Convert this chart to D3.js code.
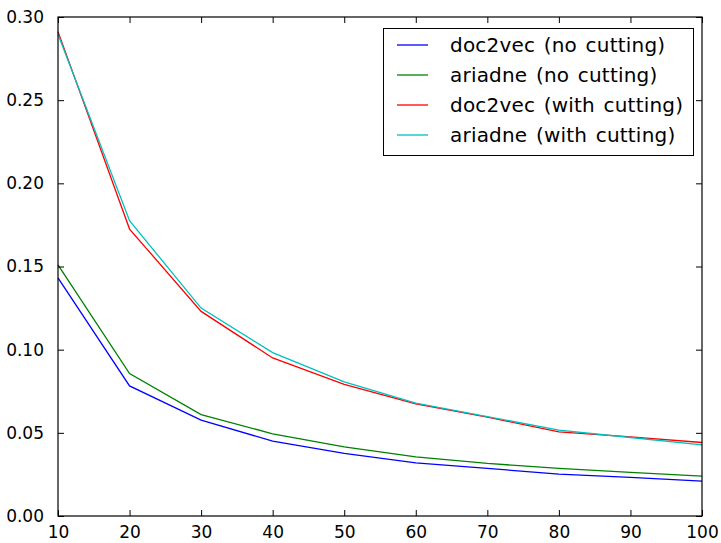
<!DOCTYPE html>
<html>
<head>
<meta charset="utf-8">
<script src="https://cdn.jsdelivr.net/npm/d3@7"></script>
<style>
  body { margin: 0; background: #fff; }
  svg text { font-family: "DejaVu Sans", sans-serif; fill: #000; }
</style>
</head>
<body>
<svg id="chart" width="721" height="543"></svg>
<script>
const xValues = [10, 20, 30, 40, 50, 60, 70, 80, 90, 100];
const doc2vecNoCut = [0.1432, 0.0782, 0.0576, 0.0450, 0.0376, 0.0320, 0.0286, 0.0252, 0.0232, 0.0210];
const ariadneNoCut = [0.1510, 0.0856, 0.0610, 0.0494, 0.0416, 0.0356, 0.0316, 0.0286, 0.0262, 0.0240];
const doc2vecCut = [0.2912, 0.1725, 0.1230, 0.0950, 0.0792, 0.0674, 0.0594, 0.0506, 0.0476, 0.0442];
const ariadneCut = [0.2896, 0.1775, 0.1250, 0.0982, 0.0806, 0.0678, 0.0598, 0.0516, 0.0472, 0.0428];
const seriesNames = ['doc2vec (no cutting)', 'ariadne (no cutting)', 'doc2vec (with cutting)', 'ariadne (with cutting)'];
const seriesColors = ['#0000ff', '#008000', '#ff0000', '#00bfbf'];
const xTicks = [10, 20, 30, 40, 50, 60, 70, 80, 90, 100];
const yTicks = [0, 0.05, 0.10, 0.15, 0.20, 0.25, 0.30];

const series = [doc2vecNoCut, ariadneNoCut, doc2vecCut, ariadneCut];

const plot = { left: 58, right: 702, top: 17, bottom: 516 };
const svg = d3.select('#chart');

const x = d3.scaleLinear().domain([10, 100]).range([plot.left, plot.right]);
const y = d3.scaleLinear().domain([0, 0.30]).range([plot.bottom, plot.top]);

const tickLen = 6;

// ticks pointing inward on all four sides
const axBottom = d3.axisBottom(x).tickValues(xTicks).tickSizeInner(-tickLen).tickSizeOuter(0).tickPadding(10).tickFormat(d3.format('d'));
const axTop = d3.axisTop(x).tickValues(xTicks).tickSizeInner(-tickLen).tickSizeOuter(0).tickFormat('');
const axLeft = d3.axisLeft(y).tickValues(yTicks).tickSizeInner(-tickLen).tickSizeOuter(0).tickPadding(14).tickFormat(d3.format('.2f'));
const axRight = d3.axisRight(y).tickValues(yTicks).tickSizeInner(-tickLen).tickSizeOuter(0).tickFormat('');

function styleAxis(g) {
  g.select('.domain').remove();
  g.selectAll('line').attr('stroke', '#000').attr('stroke-width', 1);
  g.selectAll('text').attr('font-size', 17).attr('font-family', '"DejaVu Sans", sans-serif').attr('fill', '#1a1a1a');
}

const line = d3.line()
  .x((d, i) => x(xValues[i]))
  .y(d => y(d));

svg.append('g')
  .selectAll('path')
  .data(series)
  .join('path')
  .attr('d', line)
  .attr('fill', 'none')
  .attr('stroke', (d, i) => seriesColors[i])
  .attr('stroke-width', 1.3);

svg.append('g').attr('transform', `translate(0,${plot.bottom})`).call(axBottom).call(styleAxis);
svg.append('g').attr('transform', `translate(0,${plot.top})`).call(axTop).call(styleAxis);
svg.append('g').attr('transform', `translate(${plot.left},0)`).call(axLeft).call(styleAxis);
svg.append('g').attr('transform', `translate(${plot.right},0)`).call(axRight).call(styleAxis);

svg.append('rect')
  .attr('x', plot.left).attr('y', plot.top)
  .attr('width', plot.right - plot.left).attr('height', plot.bottom - plot.top)
  .attr('fill', 'none').attr('stroke', '#000').attr('stroke-width', 1.2);

// legend
const legend = svg.append('g');
legend.append('rect')
  .attr('x', 383.5).attr('y', 28.5)
  .attr('width', 310).attr('height', 127)
  .attr('fill', '#fff').attr('stroke', '#000').attr('stroke-width', 1);

const rows = legend.selectAll('g.row')
  .data(seriesNames)
  .join('g')
  .attr('class', 'row')
  .attr('transform', (d, i) => `translate(0,${45 + i * 30})`);

rows.append('line')
  .attr('x1', 397).attr('x2', 428)
  .attr('stroke', (d, i) => seriesColors[i])
  .attr('stroke-width', 1.3);

rows.append('text')
  .attr('x', 450)
  .attr('dy', '0.35em')
  .attr('font-size', 20)
  .attr('letter-spacing', 0.2)
  .attr('word-spacing', 2)
  .attr('fill', '#1a1a1a')
  .text(d => d);
</script>
</body>
</html>
